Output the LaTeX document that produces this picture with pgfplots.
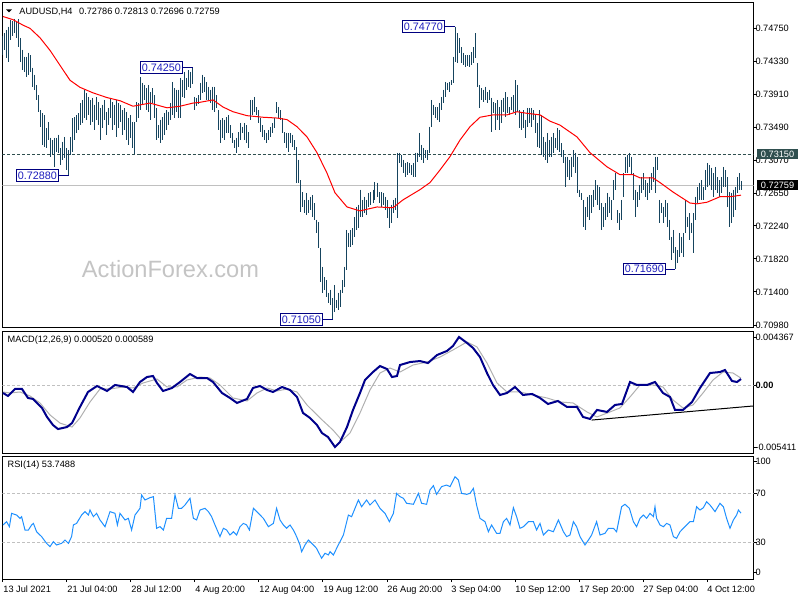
\documentclass[border=0pt]{standalone}
\usepackage{pgfplots}
\usepackage{pgfplotstable}
\pgfplotsset{compat=1.18}
\usepackage{fontspec}
\setmainfont{Liberation Sans}
\newcommand{\tf}{\fontsize{4.6pt}{5.5pt}\selectfont}
\newcommand{\lf}{\fontsize{5.4pt}{6pt}\selectfont}
\definecolor{barc}{RGB}{22,68,94}
\definecolor{lvl}{RGB}{47,79,79}
\definecolor{pricel}{RGB}{192,192,192}
\definecolor{macdc}{RGB}{0,0,139}
\definecolor{sigc}{RGB}{176,176,176}
\definecolor{rsic}{RGB}{30,144,255}
\definecolor{boxc}{RGB}{0,0,128}
\definecolor{boxt}{RGB}{30,30,190}
\definecolor{wm}{RGB}{196,196,196}
\definecolor{dgray}{RGB}{192,192,192}

\pgfplotstableread{
i h l
0 0.7465 0.7441
1 0.7469 0.7448
2 0.7473 0.7437
3 0.7477 0.7432
4 0.7486 0.7460
5 0.7484 0.7465
6 0.7487 0.7469
7 0.7483 0.7463
8 0.7487 0.7451
9 0.7463 0.7432
10 0.7448 0.7422
11 0.7439 0.7420
12 0.7439 0.7413
13 0.7444 0.7416
14 0.7441 0.7420
15 0.7425 0.7400
16 0.7416 0.7397
17 0.7403 0.7384
18 0.7390 0.7369
19 0.7371 0.7350
20 0.7367 0.7327
21 0.7365 0.7324
22 0.7348 0.7323
23 0.7356 0.7333
24 0.7336 0.7312
25 0.7333 0.7315
26 0.7336 0.7299
27 0.7336 0.7318
28 0.7340 0.7317
29 0.7323 0.7301
30 0.7331 0.7308
31 0.7337 0.7310
32 0.7323 0.7295
33 0.7320 0.7288
34 0.7337 0.7314
35 0.7361 0.7318
36 0.7362 0.7333
37 0.7365 0.7342
38 0.7367 0.7346
39 0.7380 0.7352
40 0.7384 0.7355
41 0.7397 0.7361
42 0.7393 0.7359
43 0.7388 0.7365
44 0.7384 0.7352
45 0.7387 0.7356
46 0.7378 0.7346
47 0.7388 0.7359
48 0.7381 0.7352
49 0.7374 0.7333
50 0.7378 0.7348
51 0.7384 0.7359
52 0.7369 0.7340
53 0.7374 0.7352
54 0.7387 0.7361
55 0.7381 0.7346
56 0.7378 0.7352
57 0.7384 0.7337
58 0.7380 0.7348
59 0.7378 0.7356
60 0.7371 0.7340
61 0.7374 0.7346
62 0.7369 0.7333
63 0.7361 0.7327
64 0.7365 0.7336
65 0.7356 0.7323
66 0.7356 0.7315
67 0.7381 0.7356
68 0.7380 0.7361
69 0.7413 0.7371
70 0.7406 0.7378
71 0.7403 0.7384
72 0.7399 0.7371
73 0.7403 0.7369
74 0.7394 0.7359
75 0.7399 0.7380
76 0.7390 0.7361
77 0.7374 0.7333
78 0.7352 0.7336
79 0.7359 0.7329
80 0.7362 0.7333
81 0.7367 0.7340
82 0.7371 0.7346
83 0.7369 0.7352
84 0.7380 0.7359
85 0.7407 0.7365
86 0.7399 0.7361
87 0.7397 0.7369
88 0.7397 0.7361
89 0.7412 0.7361
90 0.7409 0.7388
91 0.7420 0.7387
92 0.7412 0.7397
93 0.7422 0.7400
94 0.7420 0.7399
95 0.7425 0.7404
96 0.7388 0.7371
97 0.7387 0.7376
98 0.7390 0.7379
99 0.7406 0.7384
100 0.7416 0.7393
101 0.7413 0.7394
102 0.7407 0.7384
103 0.7401 0.7384
104 0.7397 0.7380
105 0.7401 0.7371
106 0.7401 0.7369
107 0.7390 0.7374
108 0.7371 0.7346
109 0.7359 0.7329
110 0.7361 0.7336
111 0.7359 0.7333
112 0.7362 0.7342
113 0.7365 0.7342
114 0.7352 0.7336
115 0.7342 0.7329
116 0.7333 0.7323
117 0.7336 0.7317
118 0.7343 0.7324
119 0.7355 0.7333
120 0.7350 0.7342
121 0.7355 0.7333
122 0.7352 0.7329
123 0.7343 0.7323
124 0.7384 0.7359
125 0.7384 0.7365
126 0.7388 0.7369
127 0.7375 0.7365
128 0.7371 0.7355
129 0.7361 0.7343
130 0.7352 0.7337
131 0.7346 0.7333
132 0.7342 0.7329
133 0.7346 0.7333
134 0.7350 0.7337
135 0.7355 0.7342
136 0.7361 0.7348
137 0.7381 0.7367
138 0.7375 0.7361
139 0.7371 0.7359
140 0.7361 0.7342
141 0.7343 0.7329
142 0.7342 0.7323
143 0.7342 0.7318
144 0.7342 0.7329
145 0.7340 0.7324
146 0.7333 0.7320
147 0.7324 0.7279
148 0.7308 0.7279
149 0.7282 0.7242
150 0.7267 0.7248
151 0.7257 0.7240
152 0.7266 0.7238
153 0.7257 0.7240
154 0.7261 0.7244
155 0.7263 0.7235
156 0.7253 0.7232
157 0.7232 0.7215
158 0.7229 0.7196
159 0.7196 0.7153
160 0.7172 0.7139
161 0.7159 0.7143
162 0.7155 0.7134
163 0.7139 0.7126
164 0.7143 0.7124
165 0.7132 0.7105
166 0.7149 0.7115
167 0.7130 0.7120
168 0.7139 0.7117
169 0.7143 0.7121
170 0.7155 0.7139
171 0.7172 0.7146
172 0.7219 0.7168
173 0.7215 0.7197
174 0.7219 0.7197
175 0.7221 0.7200
176 0.7235 0.7210
177 0.7248 0.7219
178 0.7251 0.7221
179 0.7270 0.7235
180 0.7257 0.7235
181 0.7261 0.7240
182 0.7257 0.7238
183 0.7266 0.7248
184 0.7267 0.7251
185 0.7270 0.7253
186 0.7280 0.7257
187 0.7279 0.7261
188 0.7267 0.7253
189 0.7267 0.7248
190 0.7266 0.7251
191 0.7261 0.7244
192 0.7257 0.7234
193 0.7248 0.7221
194 0.7251 0.7228
195 0.7257 0.7240
196 0.7260 0.7244
197 0.7317 0.7234
198 0.7317 0.7304
199 0.7314 0.7299
200 0.7308 0.7291
201 0.7304 0.7286
202 0.7305 0.7289
203 0.7304 0.7291
204 0.7301 0.7289
205 0.7304 0.7286
206 0.7317 0.7286
207 0.7317 0.7305
208 0.7342 0.7312
209 0.7327 0.7308
210 0.7323 0.7304
211 0.7320 0.7310
212 0.7320 0.7308
213 0.7350 0.7317
214 0.7384 0.7350
215 0.7378 0.7365
216 0.7375 0.7361
217 0.7375 0.7359
218 0.7380 0.7356
219 0.7388 0.7371
220 0.7397 0.7380
221 0.7407 0.7388
222 0.7406 0.7397
223 0.7407 0.7394
224 0.7409 0.7403
225 0.7439 0.7406
226 0.7477 0.7432
227 0.7469 0.7431
228 0.7463 0.7444
229 0.7451 0.7431
230 0.7444 0.7428
231 0.7441 0.7426
232 0.7441 0.7427
233 0.7441 0.7426
234 0.7445 0.7428
235 0.7451 0.7431
236 0.7469 0.7437
237 0.7431 0.7400
238 0.7403 0.7374
239 0.7399 0.7384
240 0.7397 0.7381
241 0.7401 0.7384
242 0.7394 0.7380
243 0.7397 0.7384
244 0.7387 0.7343
245 0.7381 0.7367
246 0.7380 0.7346
247 0.7384 0.7359
248 0.7375 0.7346
249 0.7384 0.7355
250 0.7387 0.7369
251 0.7394 0.7362
252 0.7388 0.7367
253 0.7375 0.7365
254 0.7388 0.7371
255 0.7390 0.7369
256 0.7409 0.7365
257 0.7403 0.7369
258 0.7371 0.7348
259 0.7367 0.7346
260 0.7371 0.7348
261 0.7359 0.7336
262 0.7374 0.7350
263 0.7374 0.7355
264 0.7374 0.7350
265 0.7371 0.7359
266 0.7365 0.7342
267 0.7355 0.7324
268 0.7371 0.7323
269 0.7365 0.7314
270 0.7337 0.7312
271 0.7331 0.7308
272 0.7342 0.7304
273 0.7333 0.7312
274 0.7337 0.7312
275 0.7342 0.7317
276 0.7336 0.7323
277 0.7348 0.7320
278 0.7346 0.7318
279 0.7329 0.7312
280 0.7320 0.7304
281 0.7312 0.7273
282 0.7312 0.7286
283 0.7308 0.7282
284 0.7312 0.7286
285 0.7320 0.7299
286 0.7317 0.7291
287 0.7312 0.7266
288 0.7270 0.7261
289 0.7266 0.7257
290 0.7257 0.7223
291 0.7248 0.7219
292 0.7261 0.7235
293 0.7263 0.7232
294 0.7263 0.7240
295 0.7270 0.7248
296 0.7282 0.7257
297 0.7276 0.7251
298 0.7273 0.7244
299 0.7253 0.7219
300 0.7248 0.7223
301 0.7253 0.7232
302 0.7266 0.7235
303 0.7261 0.7240
304 0.7257 0.7232
305 0.7282 0.7257
306 0.7291 0.7270
307 0.7244 0.7228
308 0.7240 0.7219
309 0.7257 0.7232
310 0.7291 0.7261
311 0.7312 0.7291
312 0.7314 0.7291
313 0.7317 0.7299
314 0.7312 0.7289
315 0.7291 0.7257
316 0.7270 0.7235
317 0.7267 0.7248
318 0.7276 0.7257
319 0.7286 0.7266
320 0.7291 0.7270
321 0.7282 0.7261
322 0.7279 0.7257
323 0.7286 0.7266
324 0.7291 0.7270
325 0.7299 0.7280
326 0.7312 0.7266
327 0.7312 0.7295
328 0.7257 0.7228
329 0.7253 0.7240
330 0.7248 0.7228
331 0.7257 0.7235
332 0.7253 0.7223
333 0.7232 0.7206
334 0.7210 0.7181
335 0.7219 0.7190
336 0.7197 0.7169
337 0.7193 0.7177
338 0.7215 0.7185
339 0.7210 0.7190
340 0.7215 0.7185
341 0.7257 0.7215
342 0.7235 0.7223
343 0.7240 0.7206
344 0.7228 0.7215
345 0.7240 0.7190
346 0.7261 0.7232
347 0.7273 0.7253
348 0.7279 0.7257
349 0.7282 0.7257
350 0.7273 0.7257
351 0.7295 0.7270
352 0.7304 0.7273
353 0.7301 0.7276
354 0.7298 0.7270
355 0.7291 0.7261
356 0.7299 0.7270
357 0.7286 0.7266
358 0.7282 0.7261
359 0.7286 0.7266
360 0.7299 0.7273
361 0.7295 0.7273
362 0.7286 0.7248
363 0.7267 0.7223
364 0.7266 0.7228
365 0.7270 0.7235
366 0.7273 0.7244
367 0.7286 0.7266
368 0.7291 0.7270
369 0.72813 0.72696
}\bars

\pgfplotstableread{
i v
0 0.7490
5 0.7486
10 0.7479
13.5 0.7475
18.5 0.7463
23.5 0.7447
28.5 0.7428
33.5 0.7409
38.5 0.7400
45 0.7393
52 0.7387
58.5 0.7383
65 0.7376
73.5 0.7380
82 0.7374
88.5 0.7376
95 0.7380
98.5 0.7381
105 0.7384
110 0.7375
115 0.7369
122 0.7364
130 0.7362
137 0.7361
142 0.7359
147 0.7350
152 0.7337
157 0.7317
162 0.7291
166 0.7266
172 0.7248
178.5 0.7243
187 0.7248
195 0.7247
197 0.7251
200 0.7257
208.5 0.7270
213.5 0.7279
218.5 0.7295
223.5 0.7312
228.5 0.7333
233.5 0.7350
238.5 0.7362
245 0.7365
252 0.7365
257 0.7369
262 0.7367
268.5 0.7365
273.5 0.7357
278.5 0.7352
287 0.7337
293.5 0.7317
302 0.7299
308.5 0.7289
315 0.7289
318.5 0.7285
325 0.7285
328.5 0.7279
335 0.7267
343.5 0.7253
347 0.7252
352 0.7254
358.5 0.7261
363.5 0.7261
369 0.7263
}\ma

\pgfplotstableread{
i m
0 -0.00060
2.5 -0.00084
6 -0.00028
9.5 -0.00028
12.5 -0.00100
15 -0.00108
19.5 -0.00180
22 -0.00252
25 -0.00317
27.5 -0.00349
32 -0.00333
34.5 -0.00301
38.5 -0.00172
42.5 -0.00052
47 -0.00004
52 -0.00044
56 0.00004
62 -0.00012
65 -0.00052
68.5 0.00028
72 0.00068
75 0.00076
77 0.00020
80 -0.00044
84.5 -0.00020
88.5 0.00028
93.5 0.00092
97 0.00060
102 0.00060
105 0.00028
109.5 -0.00060
113.5 -0.00100
117 -0.00140
122 -0.00108
125 -0.00020
128.5 -0.00004
132 -0.00036
135 -0.00052
139.5 -0.00012
143.5 -0.00036
147 -0.00092
150 -0.00220
153.5 -0.00260
157 -0.00317
159.5 -0.00381
162.5 -0.00413
166 -0.00493
168.5 -0.00453
172 -0.00333
175 -0.00196
178.5 -0.00060
181 0.00044
185 0.00108
188.5 0.00156
192 0.00132
194.5 0.00068
197 0.00076
198.5 0.00164
203.5 0.00188
208.5 0.00196
212.5 0.00180
217 0.00244
222 0.00277
225 0.00317
228 0.00389
232 0.00341
235 0.00301
238.5 0.00228
242 0.00100
245 0.00004
248.5 -0.00076
252 -0.00060
256 -0.00012
260 -0.00076
264.5 -0.00068
268.5 -0.00100
272.5 -0.00148
277.5 -0.00124
282 -0.00172
287 -0.00172
290 -0.00252
293.5 -0.00268
297 -0.00196
302 -0.00212
306 -0.00156
309.5 -0.00148
313.5 0.00028
317 0.00004
322 0.00004
326 0.00028
330 -0.00060
333.5 -0.00092
336 -0.00196
340 -0.00196
344.5 -0.00132
348.5 -0.00020
353.5 0.00100
358.5 0.00108
361 0.00124
364.5 0.00036
367 0.00028
369 0.00052
}\macd

\pgfplotstableread{
i s
0 -0.00052
3.5 -0.00060
8.5 -0.00052
13.5 -0.00084
18.5 -0.00140
23.5 -0.00236
28.5 -0.00301
34.5 -0.00333
38.5 -0.00260
43.5 -0.00132
48.5 -0.00028
53.5 -0.00028
60 -0.00012
65 -0.00020
70 0.00020
77 0.00052
82 -0.00012
87 -0.00012
92 0.00044
98.5 0.00068
103.5 0.00060
108.5 0.00004
115 -0.00100
122 -0.00124
127 -0.00060
132 -0.00020
137 -0.00044
142 -0.00028
147 -0.00052
152 -0.00156
158.5 -0.00260
165 -0.00357
169.5 -0.00440
173.5 -0.00381
178.5 -0.00220
183.5 -0.00036
188.5 0.00100
193.5 0.00140
198.5 0.00108
205 0.00164
212 0.00188
218.5 0.00228
225 0.00285
232 0.00349
237 0.00309
242 0.00180
247 0.00020
252 -0.00052
258.5 -0.00052
265 -0.00076
272 -0.00100
278.5 -0.00132
285 -0.00140
292 -0.00212
297 -0.00252
303.5 -0.00212
308.5 -0.00180
313.5 -0.00092
318.5 0.00004
325 0.00004
330 -0.00012
335 -0.00116
340 -0.00180
345 -0.00156
350 -0.00060
355 0.00044
360 0.00108
365 0.00100
369 0.00059
}\signal

\pgfplotstableread{
i r
0 44.1
1.8 46.8
3.2 42.7
4.3 53.6
6.8 52.2
8.5 49.5
9.3 50.9
11 40.0
12.7 40.0
14.3 44.1
15.2 45.4
16.8 38.6
19.3 34.6
21.8 29.1
23.5 26.4
25.2 30.5
26.8 27.8
29.3 29.1
31 31.8
32.7 29.1
34.3 34.6
35.2 44.1
36.8 45.4
39.3 52.2
41 55.0
42.7 52.2
43.5 56.3
45.2 50.9
46.8 53.6
48.5 48.2
51 42.7
53.5 55.0
56 53.6
57.2 44.1
58.5 53.6
61 48.2
62.7 49.5
64.3 40.0
66 52.2
68.5 57.7
69.3 68.6
71 64.5
73.5 66.4
75.2 67.2
76.8 41.4
78.5 42.7
80.2 40.0
81.8 49.5
84.3 49.5
86 68.6
87.7 57.7
89.3 57.7
91 60.4
93.5 65.9
95.2 49.5
96.8 48.2
98.5 56.3
101 57.7
102.7 55.0
104.3 50.9
106 44.1
108.5 34.6
110.2 41.4
111.8 40.0
113.5 35.9
115.2 38.6
116.8 35.9
118.5 42.7
120.2 45.4
121.8 44.1
123.2 40.0
125.2 57.7
127.7 53.6
130.2 49.5
132.7 42.7
135.2 45.4
136.8 57.7
138.5 48.2
140.2 44.1
141.8 41.4
143.5 44.1
145.2 40.0
146.8 34.6
148.5 27.8
149.3 22.3
151 27.8
152.7 31.8
155.2 27.8
156.8 25.0
159.3 16.9
161 21.0
162.7 19.6
163.5 22.3
165.2 19.6
166.8 25.0
168.5 30.5
170.2 35.9
172.7 52.2
174.3 50.9
176 57.7
177.7 64.5
179.3 59.0
181.8 64.5
183.5 60.4
186 64.5
188.5 57.7
191 53.6
193.2 46.8
195.2 53.6
196.8 69.9
198.5 67.2
200.2 65.9
201.8 61.8
205.2 61.0
207.7 69.9
209.3 61.8
211.8 61.0
213.5 72.7
215.2 76.2
216.8 69.1
219.3 75.4
221.8 76.7
223.5 75.4
226 83.5
227.7 80.8
229.3 69.9
231.8 69.1
233.5 69.9
235.2 74.0
236.8 60.4
238.5 49.5
241 46.8
242.7 38.6
244.3 44.1
246.8 37.3
248.5 37.3
250.2 46.8
251.8 49.5
253.5 44.1
255.2 58.2
256.8 50.9
258.5 41.4
260.2 42.7
262.7 46.8
265.2 46.8
266.8 40.0
268.5 45.4
270.2 35.9
272.7 40.0
275.2 38.6
277.7 48.2
280.2 38.6
281.8 34.6
283.5 35.9
285.2 46.8
286.8 42.7
288.5 34.6
291 27.8
292.7 31.8
294.3 35.9
296.8 46.8
298.5 35.9
301 37.3
302.7 41.4
305.2 41.4
306.8 38.6
309.3 59.0
311 61.0
313.2 57.7
315.2 46.8
316.8 42.7
318.5 49.5
320.2 52.2
321.8 49.5
323.5 53.6
325.2 50.9
326 59.0
326.8 49.5
328.5 44.1
330.2 42.7
331.8 45.4
333.5 44.1
335.2 34.6
336.8 33.2
338.5 38.6
340.2 41.4
341.8 44.1
343.5 46.8
345.2 46.8
346.8 59.0
348.5 56.3
350.2 58.2
351.8 63.1
353.5 60.4
356 55.0
358.5 61.8
360.2 59.0
361.8 49.5
363.5 41.4
365.2 48.2
366.8 52.2
367.7 56.3
369 53.75
}\rsi

\pgfplotsset{
  panel/.style={
    scale only axis, width=375.5pt, xmin=-0.25, xmax=375.25,
    axis line style={line width=0.5pt},
    tick style={black, line width=0.5pt},
    tick align=outside, major tick length=1.5pt,
    ytick pos=right, yticklabel pos=right,
    yticklabel style={font=\tf, anchor=west, inner sep=0pt, xshift=-0.7pt},
    scaled y ticks=false, scaled x ticks=false,
    clip mode=individual,
    /pgf/number format/assume math mode=true,
  },
}
\tikzset{lbl/.style={draw=boxc, fill=white, text=boxt, font=\lf, inner xsep=0.8pt, inner ysep=1pt, line width=0.5pt}}

\begin{document}
\begin{tikzpicture}
\path[use as bounding box] (0,0) rectangle (400pt,-300pt);
% ---------------- main price panel
\begin{axis}[panel, at={(1.25pt,-1.25pt)}, anchor=north west,
  height=162.75pt, ymin=0.70942, ymax=0.75078, xtick=\empty,
  ytick={0.7098,0.7140,0.7182,0.7224,0.7265,0.7307,0.7349,0.7391,0.7433,0.7475},
  yticklabels={0.70980,0.71400,0.71820,0.72240,0.72650,0.73070,0.73490,0.73910,0.74330,0.74750}]
\addplot[lvl, line width=0.5pt, dash pattern=on 1.5pt off 1pt] coordinates {(-0.25,0.7315) (375.25,0.7315)};
\addplot[pricel, line width=0.5pt] coordinates {(-0.25,0.72759) (375.25,0.72759)};
\addplot[draw=none, mark=none, error bars/.cd, y dir=minus, y explicit, error mark=none,
  error bar style={draw=barc, line width=0.5pt}]
  table[x=i, y=h, y error expr=\thisrow{h}-\thisrow{l}] {\bars};
\addplot[red, line width=0.5pt] table[x=i, y=v] {\ma};
\draw[boxc, line width=0.5pt] (axis cs:226,0.7477) -- (axis cs:221,0.7477) node[lbl, anchor=east] {0.74770};
\draw[boxc, line width=0.5pt] (axis cs:95,0.7425) -- (axis cs:90,0.7425) node[lbl, anchor=east] {0.74250};
\draw[boxc, line width=0.5pt] (axis cs:33,0.7288) -- (axis cs:28,0.7288) node[lbl, anchor=east] {0.72880};
\draw[boxc, line width=0.5pt] (axis cs:165,0.7105) -- (axis cs:160,0.7105) node[lbl, anchor=east] {0.71050};
\draw[boxc, line width=0.5pt] (axis cs:336,0.7169) -- (axis cs:331.5,0.7169) node[lbl, anchor=east] {0.71690};
\coordinate (r1) at (axis cs:375.25,0.7315);
\coordinate (r2) at (axis cs:375.25,0.72759);
\end{axis}
\node[anchor=west, fill=lvl, text=white, font=\tf, inner sep=0pt, minimum width=20.5pt, minimum height=5pt] at ([xshift=1.6pt]r1) {0.73150};
\node[anchor=west, fill=black, text=white, font=\tf, inner sep=0pt, minimum width=20.5pt, minimum height=5pt] at ([xshift=1.6pt]r2) {0.72759};
\node[text=wm, font=\fontsize{11.8pt}{13pt}\selectfont, inner sep=0pt] at (85.25pt,-134.5pt) {ActionForex.com};
\fill (3pt,-4.65pt) -- (6pt,-4.65pt) -- (4.5pt,-6.15pt) -- cycle;
\node[anchor=base west, inner sep=0pt, font=\tf] at (9.5pt,-7pt) {AUDUSD,H4\hspace{3.3pt}0.72786 0.72813 0.72696 0.72759};

% ---------------- MACD panel
\begin{axis}[panel, at={(1.25pt,-165.5pt)}, anchor=north west,
  height=61pt, ymin=-0.005411, ymax=0.004367, xtick=\empty,
  ytick={-0.004955,0,0.003862}, yticklabels={-0.005411,\textbf{0.00},0.004367}]
\addplot[dgray, line width=0.5pt, dash pattern=on 1.5pt off 1pt] coordinates {(-0.25,0) (375.25,0)};
\addplot[sigc, line width=0.5pt] table[x=i, y=s] {\signal};
\addplot[macdc, line width=1pt] table[x=i, y=m] {\macd};
\addplot[black, line width=0.5pt] coordinates {(294.3,-0.00277) (375.25,-0.00164)};
\end{axis}
\node[anchor=base west, inner sep=0pt, font=\tf] at (3.65pt,-171.35pt) {MACD(12,26,9) 0.000520 0.000589};

% ---------------- RSI panel
\begin{axis}[panel, at={(1.25pt,-228.25pt)}, anchor=north west,
  height=61.25pt, ymin=0, ymax=100,
  ytick={5.5,30,70,95.8}, yticklabels={0,30,70,100},
  xtick pos=left,
  xtick={0,32,64,96,128,160,192,224,256,288,320,352},
  xticklabels={13 Jul 2021,21 Jul 04:00,28 Jul 12:00,4 Aug 20:00,12 Aug 04:00,19 Aug 12:00,26 Aug 20:00,3 Sep 04:00,10 Sep 12:00,17 Sep 20:00,27 Sep 04:00,4 Oct 12:00},
  xticklabel style={font=\tf, anchor=base west, inner sep=0pt, yshift=-5.3pt}]
\addplot[dgray, line width=0.5pt, dash pattern=on 1.5pt off 1pt] coordinates {(-0.25,30) (375.25,30)};
\addplot[dgray, line width=0.5pt, dash pattern=on 1.5pt off 1pt] coordinates {(-0.25,70) (375.25,70)};
\addplot[rsic, line width=0.5pt] table[x=i, y=r] {\rsi};
\end{axis}
\node[anchor=base west, inner sep=0pt, font=\tf] at (3.65pt,-233.85pt) {RSI(14) 53.7488};
\end{tikzpicture}
\end{document}
